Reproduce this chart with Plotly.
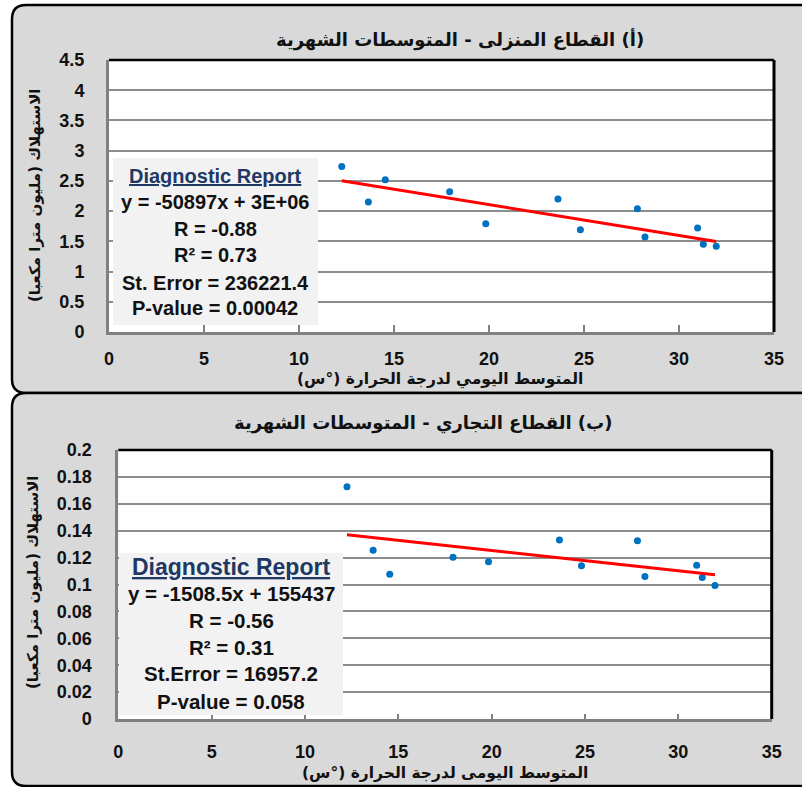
import plotly.graph_objects as go

# Monthly means: daily mean air temperature (deg C) and water consumption (million m3)
temp = [12.25, 13.65, 14.54, 17.93, 19.83, 23.63, 24.81, 27.81, 28.21, 30.98, 31.28, 31.96]
residential = [2.74, 2.15, 2.52, 2.32, 1.79, 2.20, 1.69, 2.04, 1.57, 1.72, 1.45, 1.42]
commercial = [0.1726, 0.1255, 0.1077, 0.1203, 0.1170, 0.1331, 0.1139, 0.1326, 0.1059, 0.1144, 0.1052, 0.0993]

# Regression summaries (equation in m3)
res_slope, res_intercept = -50897, 3.125e6
res_r, res_r2, res_se, res_p = "-0.88", "0.73", "236221.4", "0.00042"
com_slope, com_intercept = -1508.5, 155437
com_r, com_r2, com_se, com_p = "-0.56", "0.31", "16957.2", "0.058"

title_top = "(أ) القطاع المنزلى - المتوسطات الشهرية"
title_bottom = "(ب) القطاع التجاري - المتوسطات الشهرية"
xtitle_top = "المتوسط اليومي لدرجة الحرارة (°س)"
xtitle_bottom = "المتوسط اليومى لدرجة الحرارة (°س)"
ytitle = "الاستهلاك (مليون مترا مكعبا)"

W, H = 802, 787
RTL = lambda s: "\u202B" + s + "\u202C"


def fx(x):
    return x / W


def fy(y):
    return 1 - y / H


AR_FONT = "DejaVu Sans"
NUM_FONT = "Liberation Sans"
BOX_FONT = "Liberation Sans"

fig = go.Figure()

# scatter points and fitted lines
x_line = [min(temp), max(temp)]
fig.add_trace(go.Scatter(x=temp, y=residential, mode="markers",
                         marker=dict(color="#0070c0", size=7),
                         xaxis="x", yaxis="y", showlegend=False))
fig.add_trace(go.Scatter(x=x_line, y=[(res_slope * v + res_intercept) / 1e6 for v in x_line],
                         mode="lines", line=dict(color="#ff0000", width=3),
                         xaxis="x", yaxis="y", showlegend=False))
fig.add_trace(go.Scatter(x=temp, y=commercial, mode="markers",
                         marker=dict(color="#0070c0", size=7),
                         xaxis="x2", yaxis="y2", showlegend=False))
fig.add_trace(go.Scatter(x=x_line, y=[(com_slope * v + com_intercept) / 1e6 for v in x_line],
                         mode="lines", line=dict(color="#ff0000", width=3),
                         xaxis="x2", yaxis="y2", showlegend=False))

# plot-area geometry in pixels: (left, right, top, bottom)
top_area = (109, 774, 60, 332)
bot_area = (118.3, 771.7, 450, 719)

tickfont = dict(family=NUM_FONT, size=18, color="#111111", weight="bold")
line_common = dict(zeroline=False, showline=True, linecolor="#808080", linewidth=3,
                   automargin=False, tickfont=tickfont)

fig.update_layout(
    width=W, height=H, margin=dict(l=0, r=0, t=0, b=0, pad=0, autoexpand=False),
    paper_bgcolor="white", plot_bgcolor="white",
    xaxis=dict(domain=[fx(top_area[0]), fx(top_area[1])], range=[0, 35], dtick=5,
               showgrid=False, ticks="inside", ticklen=7, tickwidth=2, tickcolor="#808080",
               ticklabelstandoff=8, anchor="y", **line_common),
    yaxis=dict(domain=[fy(top_area[3]), fy(top_area[2])], range=[0, 4.5], dtick=0.5,
               showgrid=True, gridcolor="#8c8c8c", gridwidth=2, ticks="",
               ticklabelstandoff=18, anchor="x", **line_common),
    xaxis2=dict(domain=[fx(bot_area[0]), fx(bot_area[1])], range=[0, 35], dtick=5,
                showgrid=False, ticks="inside", ticklen=5, tickwidth=2, tickcolor="#808080",
                ticklabelstandoff=14, anchor="y2", **line_common),
    yaxis2=dict(domain=[fy(bot_area[3]), fy(bot_area[2])], range=[0, 0.2], dtick=0.02,
                showgrid=True, gridcolor="#8c8c8c", gridwidth=2, ticks="",
                ticklabelstandoff=20, anchor="x2", **line_common),
)


def panel_path(x0, y0, x1, y1, r):
    return (f"M {fx(x0)},{fy(y1 - r)} L {fx(x0)},{fy(y0 + r)} "
            f"Q {fx(x0)},{fy(y0)} {fx(x0 + r)},{fy(y0)} L {fx(x1)},{fy(y0)} "
            f"L {fx(x1)},{fy(y1)} L {fx(x0 + r)},{fy(y1)} "
            f"Q {fx(x0)},{fy(y1)} {fx(x0)},{fy(y1 - r)} Z")


shapes = []
# grey chart panels with rounded left corners
for (y0, y1) in [(5, 393), (393, 786)]:
    shapes.append(dict(type="path", path=panel_path(12, y0, 830, y1, 14),
                       xref="paper", yref="paper", fillcolor="#d9d9d9",
                       line=dict(color="#000000", width=2.5), layer="below"))
# white plot areas
for (l, r, t, b) in [top_area, bot_area]:
    shapes.append(dict(type="rect", xref="paper", yref="paper",
                       x0=fx(l), x1=fx(r), y0=fy(b), y1=fy(t),
                       fillcolor="white", line=dict(width=0), layer="below"))
# black top and right borders of plot areas
for xa, ya in [("x", "y"), ("x2", "y2")]:
    shapes.append(dict(type="line", xref=f"{xa} domain", yref=f"{ya} domain",
                       x0=0, x1=1, y0=1, y1=1, line=dict(color="#000000", width=2.5)))
    shapes.append(dict(type="line", xref=f"{xa} domain", yref=f"{ya} domain",
                       x0=1, x1=1, y0=0, y1=1, line=dict(color="#000000", width=3)))
# statistics boxes
boxes = [(113, 318, 158, 325), (119, 343, 553, 715)]
for (l, r, t, b) in boxes:
    shapes.append(dict(type="rect", xref="paper", yref="paper",
                       x0=fx(l), x1=fx(r), y0=fy(b), y1=fy(t),
                       fillcolor="#f2f2f2", line=dict(width=0), layer="above"))
fig.update_layout(shapes=shapes)

ann = []


def text(x, y, s, size, family, color="#111111", angle=0):
    ann.append(dict(x=fx(x), y=fy(y), xref="paper", yref="paper", text=s,
                    showarrow=False, xanchor="center", yanchor="middle", textangle=angle,
                    font=dict(family=family, size=size, color=color)))


# titles and axis titles
text(460, 40, "<b>" + RTL(title_top) + "</b>", 18, AR_FONT)
text(423, 423, "<b>" + RTL(title_bottom) + "</b>", 18, AR_FONT)
text(440, 379, "<b>" + RTL(xtitle_top) + "</b>", 15.5, AR_FONT)
text(445, 773, "<b>" + RTL(xtitle_bottom) + "</b>", 15.5, AR_FONT)
text(35, 196, "<b>" + RTL(ytitle) + "</b>", 15, AR_FONT, angle=-90)
text(33, 583, "<b>" + RTL(ytitle) + "</b>", 15, AR_FONT, angle=-90)


def report(cx, ys, slope, intercept, r, r2, se, p, head_size, size, se_label, icpt_fmt):
    lines = [
        f"y = {slope:g}x + {intercept:{icpt_fmt}}",
        f"R = {r}",
        f"R² = {r2}",
        f"{se_label} = {se}",
        f"P-value = {p}",
    ]
    text(cx, ys[0], "<b><u>Diagnostic Report</u></b>", head_size, BOX_FONT, color="#1f3864")
    for yy, s in zip(ys[1:], lines):
        text(cx, yy, "<b>" + s + "</b>", size, BOX_FONT)


report(215, [176, 202, 229, 255, 283, 308], res_slope, res_intercept,
       res_r, res_r2, res_se, res_p, 20, 20, "St. Error", ".0E")
report(231, [567, 593, 620, 647, 673, 701], com_slope, com_intercept,
       com_r, com_r2, com_se, com_p, 23, 20.5, "St.Error", ".0f")

fig.update_layout(annotations=ann)
fig.write_html("out.html")
